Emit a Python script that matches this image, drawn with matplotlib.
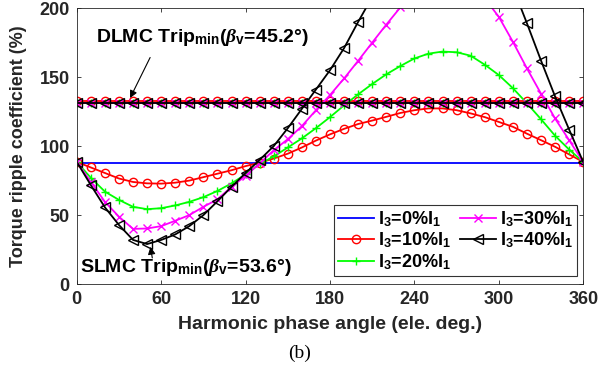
import numpy as np
import matplotlib.pyplot as plt

plt.rcParams["font.family"] = "Liberation Sans"
plt.rcParams["font.weight"] = "bold"
plt.rcParams["mathtext.fontset"] = "custom"
plt.rcParams["mathtext.rm"] = "Liberation Sans:bold"
plt.rcParams["mathtext.bf"] = "Liberation Sans:bold"
plt.rcParams["mathtext.it"] = "Liberation Serif:italic"

# harmonic phase angle grid (ele. deg.)
angle = list(range(0, 361, 10))

# SLMC torque ripple (%) for each third-harmonic level
slmc_0 = [87.5] * 37
slmc_10 = [88.5, 84.5, 80.5, 76.5, 74.0, 73.0, 72.8, 73.5, 75.0, 77.5, 80.0, 82.5, 85.5,
           88.0, 91.0, 94.5, 99.0, 104.0, 108.5, 112.5, 116.0, 118.5, 121.2, 124.0, 126.0,
           127.3, 127.3, 126.0, 123.7, 121.0, 117.5, 114.0, 109.0, 104.3, 99.5, 94.0, 88.5]
slmc_20 = [88.5, 77.0, 67.0, 61.0, 56.0, 54.3, 55.0, 57.0, 59.6, 63.0, 67.5, 73.0, 79.5,
           87.0, 92.5, 99.0, 105.6, 113.0, 121.0, 129.5, 137.5, 145.0, 152.0, 158.0, 163.5,
           167.0, 168.5, 168.0, 165.5, 159.0, 151.5, 142.0, 131.0, 119.5, 107.5, 97.5, 88.5]
slmc_30 = [88.5, 74.0, 59.6, 48.8, 40.0, 40.3, 42.0, 45.9, 50.0, 56.0, 61.4, 70.5, 78.5,
           87.5, 97.0, 105.0, 114.5, 126.0, 137.0, 149.0, 161.8, 175.0, 188.0, 200.5, 209.0,
           215.0, 219.0, 220.0, 216.0, 207.0, 193.7, 175.6, 156.3, 138.0, 120.0, 104.3, 88.5]
slmc_40 = [88.5, 71.7, 55.6, 42.8, 32.0, 29.0, 32.0, 36.0, 42.0, 50.0, 60.0, 70.5, 80.5,
           90.0, 100.0, 113.0, 127.0, 141.0, 155.0, 171.0, 190.0, 208.0, 225.0, 240.0, 252.0,
           261.0, 266.0, 267.0, 263.0, 253.0, 237.0, 215.0, 189.0, 162.0, 136.0, 112.0, 88.5]

# DLMC torque ripple (%) stays flat over the phase angle
dlmc_level = [131.5, 132.5, 131.5, 131.5, 131.0]

labels = [r"I$_{3}$=0%I$_{1}$", r"I$_{3}$=10%I$_{1}$", r"I$_{3}$=20%I$_{1}$",
          r"I$_{3}$=30%I$_{1}$", r"I$_{3}$=40%I$_{1}$"]
colors = ["#0000ff", "#ff0000", "#00ff00", "#ff00ff", "#000000"]
markers = [None, "o", "+", "x", "<"]
slmc = [slmc_0, slmc_10, slmc_20, slmc_30, slmc_40]

fig = plt.figure(figsize=(6, 3.68), dpi=100)
ax = fig.add_axes([0.128, 0.228, 0.844, 0.75])

handles = []
for s, lvl, c, m, lab in zip(slmc, dlmc_level, colors, markers, labels):
    kw = dict(color=c, lw=1.3, marker=m, ms=6.5 if m == "<" else 6, mew=1.0, mfc="none")
    ax.plot(angle, np.full(len(angle), lvl), **kw)
    h, = ax.plot(angle, s, label=lab, **kw)
    handles.append(h)

ax.set_xlim(0, 360)
ax.set_ylim(0, 200)
ax.set_xticks(range(0, 361, 60))
ax.set_yticks(range(0, 201, 50))
ax.tick_params(direction="in", length=3, width=0.6, top=True, right=True,
               labelsize=13, colors="#262626", pad=5)
for sp in ax.spines.values():
    sp.set_color("#262626")
    sp.set_linewidth(0.6)
for t in ax.get_xticklabels() + ax.get_yticklabels():
    t.set_fontweight("bold")

ax.set_xlabel("Harmonic phase angle (ele. deg.)", fontsize=14, fontweight="bold",
              color="#262626", labelpad=6)
ax.set_ylabel("Torque ripple coefficient (%)", fontsize=13, fontweight="bold",
              color="#262626", labelpad=9)

# minimum-ripple annotations
ax.text(14, 178.5, r"DLMC Trip$_{\rm min}$($\beta_{\rm v}$=45.2°)", fontsize=14,
        fontweight="bold", ha="left", va="center")
ax.annotate("", xy=(37, 133), xytext=(53, 166),
            arrowprops=dict(arrowstyle="-|>", color="k", lw=0.8, mutation_scale=11))
ax.annotate("", xy=(52, 29), xytext=(54, 17),
            arrowprops=dict(arrowstyle="-|>", color="k", lw=0.8, mutation_scale=11))
ax.text(2, 12, r"SLMC Trip$_{\rm min}$($\beta_{\rm v}$=53.6°)", fontsize=14,
        fontweight="bold", ha="left", va="center")

leg = ax.legend(handles=handles, ncol=2, loc="lower right", bbox_to_anchor=(0.988, 0.028),
                fontsize=13, frameon=True, fancybox=False, edgecolor="k",
                handlelength=2.0, handletextpad=0.2, columnspacing=0.5,
                labelspacing=0.1, borderpad=0.25, borderaxespad=0)
leg.get_frame().set_linewidth(0.8)

fig.text(0.5, 0.04, "(b)", fontsize=14, family="Liberation Serif", fontweight="normal",
         ha="center", va="center")

fig.savefig("out.png", dpi=100)
